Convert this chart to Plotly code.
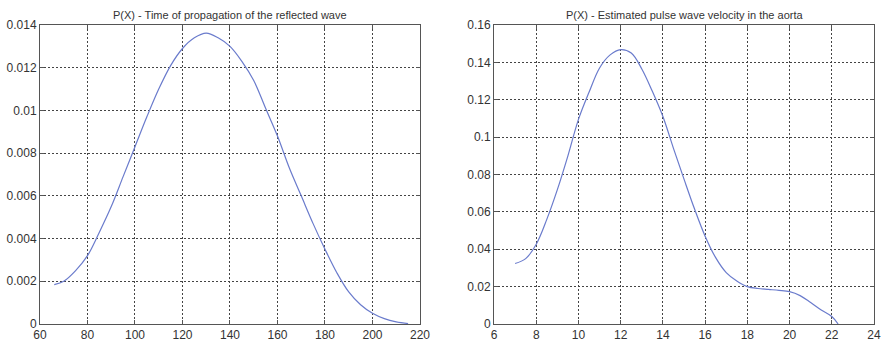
import plotly.graph_objects as go

# Left chart: time of propagation of the reflected wave
t_x = [66, 70, 75, 80, 85, 90, 95, 100, 105, 110, 115, 120, 125, 130, 135, 140,
       145, 150, 155, 160, 165, 170, 175, 180, 185, 190, 195, 200, 205, 210, 215]
t_y = [0.00184, 0.00200, 0.0025, 0.0032, 0.0043, 0.0055, 0.0069, 0.0083, 0.0097,
       0.0110, 0.0121, 0.0129, 0.0134, 0.01362, 0.0134, 0.0130, 0.0123, 0.0114,
       0.0101, 0.0088, 0.0073, 0.0060, 0.0047, 0.0035, 0.0024, 0.0015, 0.0009,
       0.0005, 0.00025, 0.0001, 0.00002]

# Right chart: estimated pulse wave velocity in the aorta
v_x = [7.0, 7.5, 8.0, 8.5, 9.0, 9.5, 10.0, 10.5, 11.0, 11.5, 12.0, 12.5, 13.0, 13.5,
       14.0, 14.5, 15.0, 15.5, 16.0, 16.5, 17.0, 17.5, 18.0, 18.5, 19.0, 19.5, 20.0,
       20.5, 21.0, 21.5, 22.0, 22.3]
v_y = [0.0324, 0.0350, 0.0427, 0.0560, 0.0719, 0.0900, 0.1095, 0.1240, 0.1370,
       0.1440, 0.1468, 0.1450, 0.1365, 0.1245, 0.1110, 0.0940, 0.0775, 0.0615,
       0.0470, 0.0355, 0.0275, 0.0230, 0.0200, 0.0190, 0.0185, 0.0180, 0.0173,
       0.0152, 0.0115, 0.0075, 0.0040, 0.0000]

left_xticks = [60, 80, 100, 120, 140, 160, 180, 200, 220]
left_yticks = [0, 0.002, 0.004, 0.006, 0.008, 0.01, 0.012, 0.014]
left_ylabels = ["0", "0.002", "0.004", "0.006", "0.008", "0.01", "0.012", "0.014"]
right_xticks = [6, 8, 10, 12, 14, 16, 18, 20, 22, 24]
right_yticks = [0, 0.02, 0.04, 0.06, 0.08, 0.1, 0.12, 0.14, 0.16]
right_ylabels = ["0", "0.02", "0.04", "0.06", "0.08", "0.1", "0.12", "0.14", "0.16"]

titles = ["P(X) - Time of propagation of the reflected wave",
          "P(X) - Estimated pulse wave velocity in the aorta"]

line_color = "#6a7bcc"
font = dict(family="Liberation Sans, Arial, sans-serif", size=11, color="#333333")
tick_font = dict(family="Liberation Sans, Arial, sans-serif", size=12, color="#333333")

fig = go.Figure()
fig.add_trace(go.Scatter(x=t_x, y=t_y, mode="lines", line=dict(color=line_color, width=1.2, shape="spline"),
                         xaxis="x", yaxis="y", showlegend=False))
fig.add_trace(go.Scatter(x=v_x, y=v_y, mode="lines", line=dict(color=line_color, width=1.2, shape="spline"),
                         xaxis="x2", yaxis="y2", showlegend=False))

common = dict(showline=True, linecolor="#555555", linewidth=1, mirror="allticks",
              ticks="inside", ticklen=4, tickcolor="#555555",
              showgrid=True, gridcolor="#444444", griddash="2px,2px", gridwidth=1,
              zeroline=False, tickfont=tick_font, layer="above traces", automargin=False)

fig.update_layout(
    width=884, height=344,
    margin=dict(l=40, r=10, t=25, b=20),
    paper_bgcolor="white", plot_bgcolor="white",
    font=font,
    xaxis=dict(domain=[0, 0.4556], range=[60, 220], tickvals=left_xticks, anchor="y", **common),
    yaxis=dict(domain=[0, 1], range=[0, 0.014], tickvals=left_yticks, ticktext=left_ylabels, anchor="x", **common),
    xaxis2=dict(domain=[0.5444, 1.0], range=[6, 24], tickvals=right_xticks, anchor="y2", **common),
    yaxis2=dict(domain=[0, 1], range=[0, 0.16], tickvals=right_yticks, ticktext=right_ylabels, anchor="x2", **common),
    annotations=[
        dict(text=titles[0], xref="x domain", yref="paper", x=0.5, y=1.0, yanchor="bottom",
             showarrow=False, font=font, yshift=2),
        dict(text=titles[1], xref="x2 domain", yref="paper", x=0.5, y=1.0, yanchor="bottom",
             showarrow=False, font=font, yshift=2),
    ],
)

fig.write_html("out.html")
